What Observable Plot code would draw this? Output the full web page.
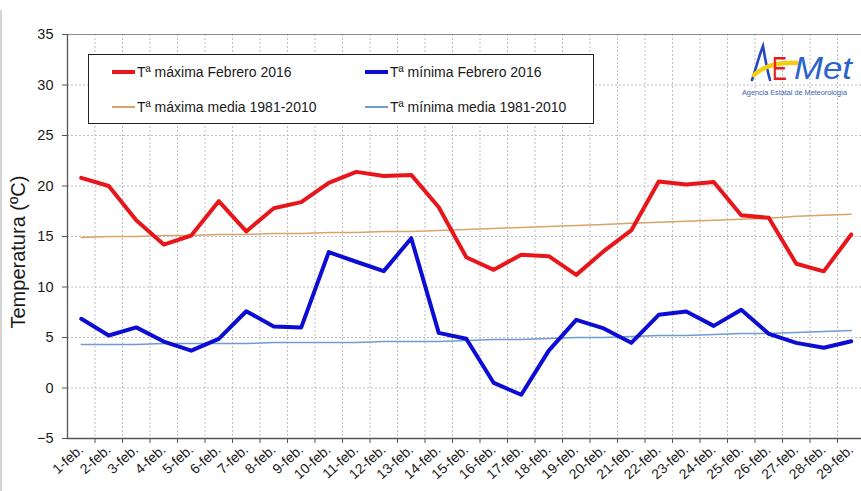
<!DOCTYPE html>
<html><head><meta charset="utf-8">
<script src="https://cdn.jsdelivr.net/npm/d3@7"></script>
<script src="https://cdn.jsdelivr.net/npm/@observablehq/plot@0.6"></script>
<style>
body{margin:0;background:#fff;}
#wrap{position:relative;width:861px;height:491px;overflow:hidden;font-family:"Liberation Sans",Arial,sans-serif;background:#fff;}
#wrap svg.plot{position:absolute;left:0;top:0;}
.edge{position:absolute;left:0;top:10px;width:2px;height:481px;background:#d4d4d4;}
.legend{position:absolute;left:88px;top:54px;width:504px;height:68px;border:1px solid #222;background:#fff;}
.legend .it{position:absolute;font-size:14px;color:#1a1a1a;line-height:16px;white-space:nowrap;}
.legend .sw{position:absolute;}
#logo{position:absolute;left:0;top:0;}
</style></head><body>
<div id="wrap"><div class="edge"></div></div>
<script>
const dayLabels = ["1-feb.","2-feb.","3-feb.","4-feb.","5-feb.","6-feb.","7-feb.","8-feb.","9-feb.","10-feb.",
  "11-feb.","12-feb.","13-feb.","14-feb.","15-feb.","16-feb.","17-feb.","18-feb.","19-feb.","20-feb.",
  "21-feb.","22-feb.","23-feb.","24-feb.","25-feb.","26-feb.","27-feb.","28-feb.","29-feb."];
const tmax2016 = [20.8,20.0,16.6,14.2,15.1,18.5,15.5,17.8,18.4,20.3,21.4,21.0,21.1,17.9,12.95,11.7,13.2,13.05,11.2,13.55,15.6,20.45,20.15,20.4,17.1,16.85,12.3,11.55,15.2];
const tmin2016 = [6.85,5.2,6.0,4.6,3.7,4.87,7.6,6.1,6.0,13.45,12.5,11.57,14.83,5.46,4.87,0.5,-0.67,3.7,6.75,5.9,4.47,7.25,7.57,6.15,7.74,5.36,4.47,3.98,4.63];
const tmaxMedia = [14.9,15.0,15.0,15.1,15.1,15.2,15.2,15.3,15.3,15.4,15.4,15.5,15.5,15.6,15.7,15.8,15.9,16.0,16.1,16.2,16.3,16.4,16.5,16.6,16.7,16.8,17.0,17.1,17.2];
const tminMedia = [4.3,4.3,4.3,4.4,4.4,4.4,4.4,4.5,4.5,4.5,4.5,4.6,4.6,4.6,4.7,4.8,4.8,4.9,5.0,5.0,5.1,5.2,5.2,5.3,5.4,5.4,5.5,5.6,5.7];
const yTicks = [-5,0,5,10,15,20,25,30,35];
const seriesNames = ["Tª máxima Febrero 2016","Tª mínima Febrero 2016","Tª máxima media 1981-2010","Tª mínima media 1981-2010"];
const seriesColors = ["#e8161b","#0c0cd4","#d9a46a","#6f9bd0"];
const seriesWidths = [4,4,1.5,1.5];
const yLabel = "Temperatura (ºC)";

const data = dayLabels.map((label, i) => ({
  day: i + 1, label,
  tmax: tmax2016[i], tmin: tmin2016[i], tmaxM: tmaxMedia[i], tminM: tminMedia[i]
}));
const days = data.map(d => d.day);
const bounds = days.slice(0, -1).map(d => d + 0.5);

const grid = {stroke: "#bdbdbd", strokeOpacity: 1, strokeDasharray: "2,2"};
const chart = Plot.plot({
  width: 861, height: 491,
  marginLeft: 67, marginTop: 34, marginBottom: 53, marginRight: 0,
  x: {type: "linear", domain: [0.5, 29.5], range: [67, 864.5]},
  y: {domain: [-5, 35]},
  style: {fontFamily: "'Liberation Sans', Arial, sans-serif", color: "#1a1a1a", background: "transparent"},
  marks: [
    Plot.gridY({ticks: yTicks.slice(1, -1), ...grid}),
    Plot.gridX({ticks: bounds, ...grid}),
    Plot.ruleY([35], {stroke: "#8c8c8c"}),
    Plot.ruleY([-5], {stroke: "#555", strokeWidth: 1.3}),
    Plot.ruleX([0.5], {stroke: "#555", strokeWidth: 1.3}),
    Plot.axisY({ticks: yTicks, tickSize: 5, tickPadding: 9, fontSize: 14.5, stroke: "#555", label: null}),
    Plot.axisX({ticks: bounds, tickSize: 5, tickFormat: () => "", stroke: "#555", label: null}),
    Plot.axisX({ticks: days, tickSize: 0, tickRotate: -42, tickPadding: 9, fontSize: 14, tickFormat: d => dayLabels[d - 1], label: null}),
    Plot.line(data, {x: "day", y: "tmaxM", stroke: seriesColors[2], strokeWidth: seriesWidths[2]}),
    Plot.line(data, {x: "day", y: "tminM", stroke: seriesColors[3], strokeWidth: seriesWidths[3]}),
    Plot.line(data, {x: "day", y: "tmax", stroke: seriesColors[0], strokeWidth: seriesWidths[0]}),
    Plot.line(data, {x: "day", y: "tmin", stroke: seriesColors[1], strokeWidth: seriesWidths[1]}),
    Plot.text([yLabel], {text: d => d, frameAnchor: "left", textAnchor: "start", dx: -49, dy: 92, rotate: -90, fontSize: 20, fill: "#1a1a1a"})
  ]
});
chart.classList.add("plot");
const wrap = document.getElementById("wrap");
wrap.appendChild(chart);

// legend
const legend = document.createElement("div");
legend.className = "legend";
const pos = [[23, 17], [276, 17], [23, 52], [276, 52]];
seriesNames.forEach((name, i) => {
  const [lx, ly] = pos[i];
  const sw = document.createElement("div");
  sw.className = "sw";
  const h = seriesWidths[i];
  sw.style.cssText = `left:${lx}px;top:${ly - h / 2}px;width:23px;height:${h}px;background:${seriesColors[i]};`;
  legend.appendChild(sw);
  const t = document.createElement("div");
  t.className = "it";
  t.style.left = (lx + 25) + "px";
  t.style.top = (ly - 8) + "px";
  t.textContent = name;
  legend.appendChild(t);
});
wrap.appendChild(legend);

// logo
const ns = "http://www.w3.org/2000/svg";
const logo = document.createElementNS(ns, "svg");
logo.setAttribute("id", "logo");
logo.setAttribute("width", 861);
logo.setAttribute("height", 120);
logo.innerHTML = `
  <path d="M752,80 C756,68 759,56 763,46 C765,58 767,70 770,80" fill="none" stroke="#2647c4" stroke-width="2.6" stroke-linecap="round"/>
  <path d="M754,75 C764,66 780,62 797,63" fill="none" stroke="#f2cf12" stroke-width="4.5" stroke-linecap="round"/>
  <text x="772" y="80" font-family="Liberation Sans" font-size="33" fill="#e01e1e" textLength="15" lengthAdjust="spacingAndGlyphs">E</text>
  <text x="794" y="79" font-family="Liberation Sans" font-style="italic" font-size="32" fill="#2a63cc" textLength="58" lengthAdjust="spacingAndGlyphs">Met</text>
  <text x="742" y="95" font-family="Liberation Sans" font-size="7" fill="#3a5fb5" textLength="105" lengthAdjust="spacingAndGlyphs">Agencia Estatal de Meteorología</text>`;
wrap.appendChild(logo);
</script>
</body></html>
